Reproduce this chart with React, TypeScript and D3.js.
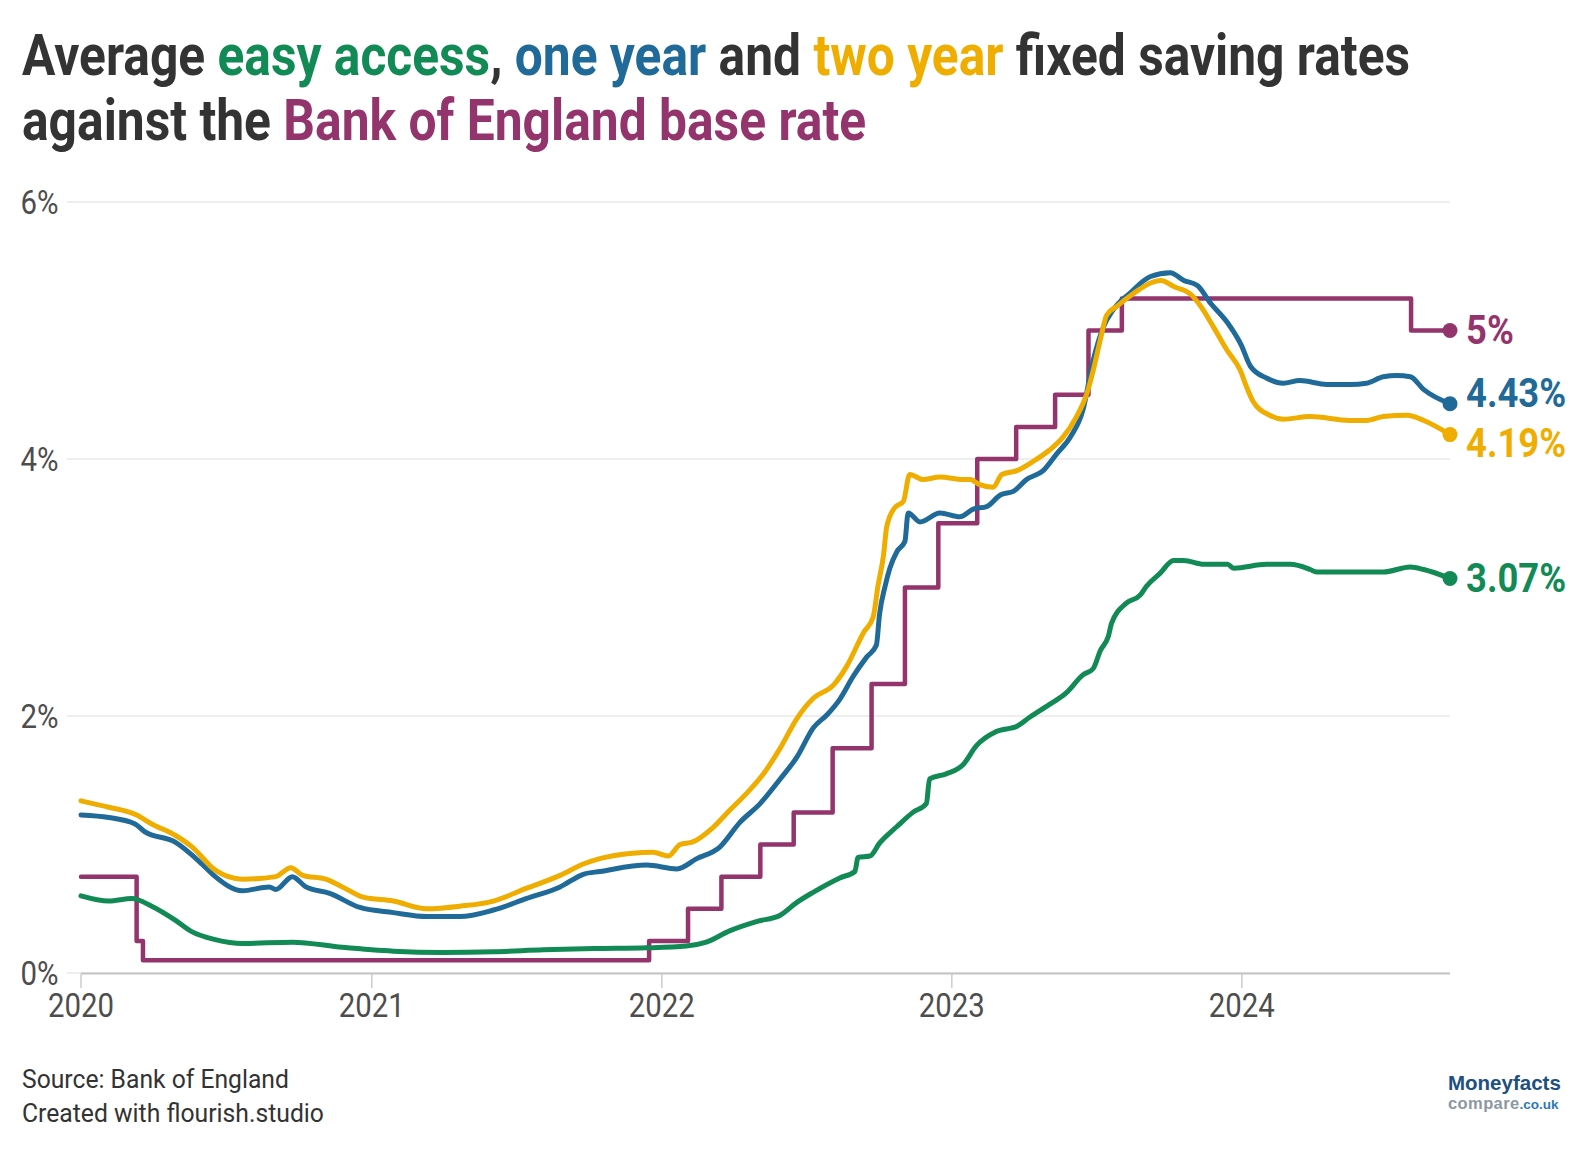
import React from 'react';
import * as d3 from 'd3';

// ---------- DATA ----------
const baseRateDates = ['2020-01-01','2020-03-11','2020-03-19','2021-12-16','2022-02-03','2022-03-17','2022-05-05','2022-06-16','2022-08-04','2022-09-22','2022-11-03','2022-12-15','2023-02-02','2023-03-23','2023-05-11','2023-06-22','2023-08-03','2024-08-01','2024-09-19'];
const baseRateValues = [0.75,0.25,0.1,0.25,0.5,0.75,1,1.25,1.75,2.25,3,3.5,4,4.25,4.5,5,5.25,5,5];

const twoYearFixed: [string, number][] = [
['2020-01-01',1.34],['2020-02-05',1.29],['2020-03-11',1.23],['2020-03-30',1.16],['2020-04-29',1.07],['2020-05-20',0.98],['2020-06-18',0.80],['2020-07-22',0.73],['2020-09-02',0.75],['2020-09-21',0.82],['2020-10-06',0.76],['2020-11-04',0.73],['2020-11-25',0.67],['2020-12-21',0.59],['2021-01-28',0.56],['2021-03-11',0.50],['2021-04-22',0.52],['2021-06-03',0.56],['2021-07-15',0.66],['2021-08-26',0.76],['2021-09-25',0.85],['2021-10-15',0.89],['2021-11-22',0.93],['2021-12-21',0.94],['2022-01-09',0.91],['2022-01-24',1.00],['2022-02-09',1.02],['2022-03-06',1.13],['2022-03-28',1.27],['2022-04-18',1.40],['2022-05-09',1.55],['2022-05-30',1.75],['2022-06-20',1.98],['2022-07-11',2.14],['2022-08-05',2.24],['2022-08-22',2.39],['2022-09-12',2.65],['2022-09-24',2.77],['2022-09-30',3.01],['2022-10-07',3.25],['2022-10-11',3.47],['2022-10-21',3.62],['2022-11-01',3.67],['2022-11-09',3.88],['2022-11-26',3.84],['2022-12-17',3.86],['2023-01-15',3.84],['2023-01-24',3.84],['2023-02-05',3.80],['2023-02-22',3.78],['2023-03-05',3.88],['2023-03-24',3.91],['2023-04-13',3.98],['2023-05-04',4.07],['2023-05-21',4.17],['2023-06-07',4.33],['2023-06-20',4.51],['2023-06-28',4.69],['2023-07-07',4.93],['2023-07-15',5.12],['2023-07-28',5.19],['2023-08-18',5.29],['2023-09-08',5.37],['2023-09-21',5.39],['2023-10-08',5.34],['2023-10-29',5.28],['2023-11-10',5.19],['2023-11-26',5.03],['2023-12-13',4.85],['2023-12-30',4.69],['2024-01-07',4.56],['2024-01-15',4.45],['2024-02-05',4.34],['2024-02-22',4.31],['2024-03-27',4.33],['2024-05-16',4.30],['2024-06-06',4.30],['2024-06-27',4.33],['2024-07-27',4.34],['2024-08-17',4.30],['2024-09-19',4.19]
];

const oneYearFixed: [string, number][] = [
['2020-01-01',1.23],['2020-02-05',1.21],['2020-03-09',1.16],['2020-03-21',1.10],['2020-04-28',1.02],['2020-06-01',0.85],['2020-06-18',0.75],['2020-07-22',0.64],['2020-08-25',0.67],['2020-09-02',0.65],['2020-09-23',0.75],['2020-10-10',0.67],['2020-11-09',0.62],['2020-12-17',0.51],['2021-01-28',0.47],['2021-03-11',0.44],['2021-04-22',0.44],['2021-06-03',0.49],['2021-07-15',0.58],['2021-08-26',0.67],['2021-09-25',0.77],['2021-10-15',0.79],['2021-12-13',0.84],['2022-01-20',0.81],['2022-02-14',0.89],['2022-03-15',0.98],['2022-04-09',1.17],['2022-05-05',1.32],['2022-05-30',1.51],['2022-06-20',1.68],['2022-07-11',1.91],['2022-07-28',2.01],['2022-08-13',2.13],['2022-08-30',2.31],['2022-09-16',2.46],['2022-09-28',2.55],['2022-10-02',2.79],['2022-10-09',3.01],['2022-10-15',3.15],['2022-10-24',3.28],['2022-11-03',3.36],['2022-11-07',3.58],['2022-11-22',3.51],['2022-12-17',3.58],['2023-01-11',3.55],['2023-01-28',3.61],['2023-02-14',3.63],['2023-03-03',3.72],['2023-03-20',3.75],['2023-04-05',3.84],['2023-04-26',3.91],['2023-05-13',4.04],['2023-05-30',4.17],['2023-06-15',4.38],['2023-06-28',4.77],['2023-07-11',5.03],['2023-07-23',5.16],['2023-08-13',5.29],['2023-09-08',5.42],['2023-10-03',5.45],['2023-10-20',5.39],['2023-11-06',5.35],['2023-11-23',5.21],['2023-12-14',5.06],['2023-12-31',4.89],['2024-01-12',4.72],['2024-02-01',4.63],['2024-02-22',4.59],['2024-03-14',4.61],['2024-04-17',4.58],['2024-05-16',4.58],['2024-06-06',4.59],['2024-06-27',4.64],['2024-07-14',4.65],['2024-07-31',4.64],['2024-08-17',4.54],['2024-09-19',4.43]
];

const easyAccess: [string, number][] = [
['2020-01-01',0.60],['2020-02-05',0.56],['2020-03-05',0.58],['2020-03-30',0.52],['2020-04-29',0.41],['2020-05-20',0.32],['2020-06-18',0.26],['2020-07-22',0.23],['2020-09-23',0.24],['2020-11-25',0.20],['2021-01-28',0.17],['2021-03-31',0.16],['2021-06-03',0.165],['2021-08-05',0.18],['2021-10-08',0.19],['2021-12-13',0.196],['2022-02-01',0.21],['2022-02-26',0.24],['2022-03-28',0.33],['2022-04-30',0.40],['2022-05-30',0.45],['2022-06-20',0.55],['2022-07-11',0.63],['2022-08-13',0.74],['2022-09-01',0.79],['2022-09-05',0.90],['2022-09-20',0.91],['2022-10-02',1.01],['2022-10-24',1.14],['2022-11-13',1.25],['2022-11-30',1.32],['2022-12-04',1.51],['2022-12-25',1.55],['2023-01-15',1.62],['2023-02-01',1.77],['2023-02-26',1.88],['2023-03-24',1.92],['2023-04-09',1.99],['2023-05-04',2.09],['2023-05-25',2.18],['2023-06-15',2.32],['2023-06-28',2.37],['2023-07-07',2.51],['2023-07-17',2.62],['2023-07-21',2.72],['2023-08-09',2.88],['2023-08-26',2.94],['2023-09-03',3.01],['2023-09-20',3.11],['2023-10-07',3.21],['2023-10-20',3.21],['2023-11-14',3.18],['2023-12-14',3.18],['2023-12-22',3.15],['2024-02-01',3.18],['2024-03-02',3.18],['2024-03-27',3.14],['2024-04-04',3.12],['2024-05-16',3.12],['2024-06-27',3.12],['2024-07-31',3.16],['2024-08-17',3.14],['2024-09-19',3.07]
];

const yTicks = [0, 2, 4, 6];
const xDomain = ['2020-01-01', '2024-09-19'];

const COLORS = {
  green: '#118a55',
  blue: '#1f6a98',
  yellow: '#efad00',
  purple: '#94346c',
  dark: '#333333',
  tick: '#4d4d4d',
};

// ---------- LAYOUT ----------
const W = 1588, H = 1150;
const plot = { left: 81, right: 1450, top: 202, bottom: 973 };
const COND = 0.89;
const FONT = 'Roboto, "Noto Sans", sans-serif';

const parse = d3.utcParse('%Y-%m-%d');

function CText({ x, y, sx = COND, anchor = 'start', children, ...rest }: any) {
  return (
    <text transform={`translate(${x},${y}) scale(${sx},1)`} textAnchor={anchor} fontFamily={FONT} {...rest}>
      {children}
    </text>
  );
}

// text squeezed horizontally to a target width (condensed look)
function FitText({ x, y, width, children, ...rest }: any) {
  const ref = React.useRef<SVGTextElement>(null);
  const [s, setS] = React.useState(COND);
  React.useLayoutEffect(() => {
    if (ref.current) {
      const len = ref.current.getComputedTextLength();
      if (len > 0) setS(width / len);
    }
  }, [width]);
  return (
    <text ref={ref} transform={`translate(${x},${y}) scale(${s},1)`} fontFamily={FONT} {...rest}>
      {children}
    </text>
  );
}

export default function App() {
  React.useEffect(() => {
    document.body.style.margin = '0';
  }, []);

  const x = d3.scaleUtc().domain(xDomain.map((d) => parse(d) as Date)).range([plot.left, plot.right]);
  const y = d3.scaleLinear().domain([0, 6]).range([plot.bottom, plot.top]);

  const toPts = (arr: [string, number][]) => arr.map(([d, v]) => ({ date: parse(d) as Date, v }));
  const basePts = baseRateDates.map((d, i) => ({ date: parse(d) as Date, v: baseRateValues[i] }));

  const smooth = d3.line<{ date: Date; v: number }>().x((d) => x(d.date)).y((d) => y(d.v)).curve(d3.curveMonotoneX);
  const step = d3.line<{ date: Date; v: number }>().x((d) => x(d.date)).y((d) => y(d.v)).curve(d3.curveStepAfter);

  const series = [
    { key: 'base', pts: basePts, color: COLORS.purple, path: step, width: 4.5, label: (v: number) => `${v}%` },
    { key: 'easy', pts: toPts(easyAccess), color: COLORS.green, path: smooth, width: 5, label: (v: number) => `${v.toFixed(2)}%` },
    { key: 'one', pts: toPts(oneYearFixed), color: COLORS.blue, path: smooth, width: 5, label: (v: number) => `${v.toFixed(2)}%` },
    { key: 'two', pts: toPts(twoYearFixed), color: COLORS.yellow, path: smooth, width: 5, label: (v: number) => `${v.toFixed(2)}%` },
  ];

  // end labels with collision avoidance
  const labels = series.map((s) => {
    const last = s.pts[s.pts.length - 1];
    return { key: s.key, color: s.color, text: s.label(last.v), cy: y(last.v), by: y(last.v) + 13 };
  });
  const sorted = [...labels].sort((a, b) => a.by - b.by);
  const GAP = 50;
  for (let iter = 0; iter < 20; iter++) {
    for (let i = 1; i < sorted.length; i++) {
      const a = sorted[i - 1], b = sorted[i];
      const overlap = GAP - (b.by - a.by);
      if (overlap > 0) {
        a.by -= overlap / 2;
        b.by += overlap / 2;
      }
    }
  }

  const yearTicks = x.ticks(d3.utcYear.every(1) as any);
  const LOGO_FONT = '"Liberation Sans", Arial, sans-serif';

  return (
    <div style={{ position: 'absolute', left: 0, top: 0 }}>
      <svg width={W} height={H} viewBox={`0 0 ${W} ${H}`} style={{ display: 'block', background: '#fff' }}>
        {/* Title */}
        <FitText x={22} y={75} width={1388} fontWeight={700} fontSize={57} fill={COLORS.dark}>
          Average <tspan fill={COLORS.green}>easy access</tspan>, <tspan fill={COLORS.blue}>one year</tspan> and <tspan fill={COLORS.yellow}>two year</tspan> fixed saving rates
        </FitText>
        <FitText x={22} y={140} width={844} fontWeight={700} fontSize={57} fill={COLORS.dark}>
          against the <tspan fill={COLORS.purple}>Bank of England base rate</tspan>
        </FitText>

        {/* Grid */}
        {yTicks.map((t) => (
          <g key={t}>
            <line x1={67} x2={plot.right} y1={y(t)} y2={y(t)} stroke="#e8e8e8" strokeWidth={1.5} />
            <CText x={58.5} y={y(t) + 12} anchor="end" fontSize={33} fill={COLORS.tick}>{`${t}%`}</CText>
          </g>
        ))}

        {/* X axis */}
        <line x1={plot.left} x2={plot.right} y1={plot.bottom + 0.5} y2={plot.bottom + 0.5} stroke="#c4c4c4" strokeWidth={2} />
        {yearTicks.map((t) => (
          <g key={t.toISOString()}>
            <line x1={x(t)} x2={x(t)} y1={plot.bottom + 1} y2={plot.bottom + 15} stroke="#cccccc" strokeWidth={1.5} />
            <CText x={x(t)} y={1017} anchor="middle" fontSize={33} fill={COLORS.tick}>{d3.utcFormat('%Y')(t)}</CText>
          </g>
        ))}

        {/* Lines */}
        {series.map((s) => (
          <path key={s.key} d={s.path(s.pts) || ''} fill="none" stroke={s.color} strokeWidth={s.width} strokeLinejoin="round" strokeLinecap="round" />
        ))}
        {series.map((s) => {
          const last = s.pts[s.pts.length - 1];
          return <circle key={s.key + 'dot'} cx={x(last.date)} cy={y(last.v)} r={7.5} fill={s.color} />;
        })}
        {labels.map((l) => (
          <CText key={l.key + 'lab'} x={1466} y={l.by} sx={0.91} fontSize={40} fontWeight={700} fill={l.color}>{l.text}</CText>
        ))}

        {/* Footer */}
        <FitText x={22} y={1088} width={267} fontSize={26} fill={COLORS.dark}>Source: Bank of England</FitText>
        <FitText x={22} y={1122} width={302} fontSize={26} fill={COLORS.dark}>Created with flourish.studio</FitText>

        {/* Logo */}
        <text x={1448} y={1089.5} fontFamily={LOGO_FONT} fontWeight={700} fontSize={20.5} fill="#1d4f80">Moneyfacts</text>
        <text x={1448} y={1108.8} fontFamily={LOGO_FONT} fontWeight={700}>
          <tspan fontSize={16.5} fill="#8c98a2" letterSpacing={0.4}>compare</tspan>
          <tspan fontSize={13.5} fill="#2a7ab8">.co.uk</tspan>
        </text>
      </svg>
    </div>
  );
}
